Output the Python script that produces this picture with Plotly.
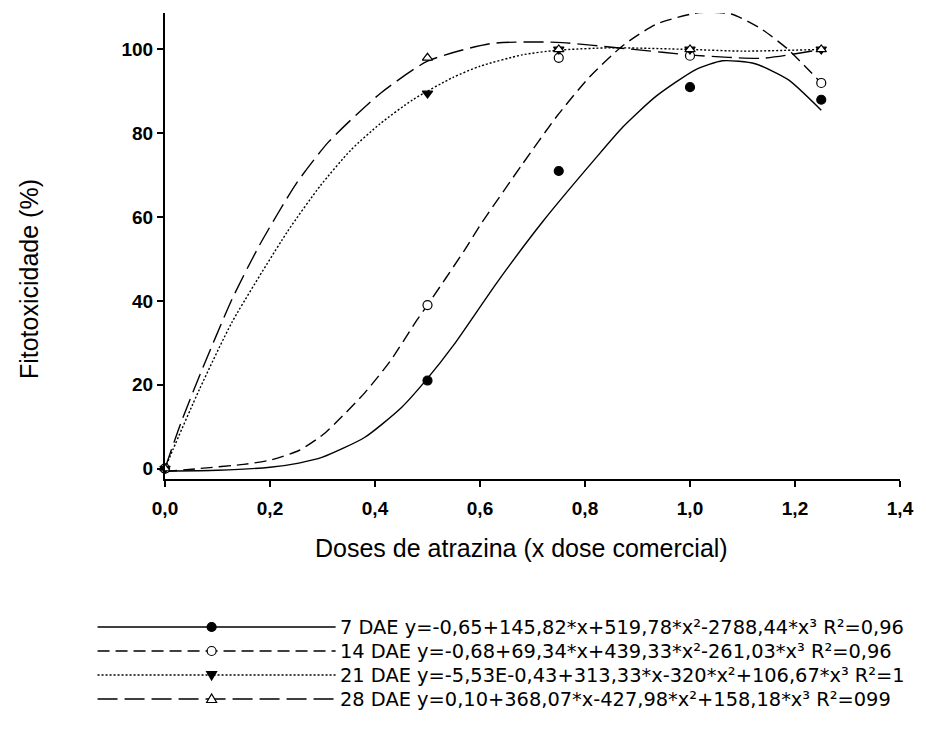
import plotly.graph_objects as go

# ---- observed data (points) ----
doses = [0.0, 0.5, 0.75, 1.0, 1.25]
dae7 = [0, 21, 71, 91, 88]
dae14 = [0, 39, 98, 98.5, 92]
dae21 = [0, 89.5, 100, 100, 100]
dae28 = [0, 98, 100, 100, 100]

# ---- fitted curves ----
fit7_x = [0, 0.1, 0.2, 0.255, 0.3, 0.38, 0.45, 0.5, 0.55, 0.633, 0.72, 0.82, 0.873, 0.935, 1.011, 1.062, 1.124, 1.187, 1.25]
fit7_y = [-0.6, -0.4, 0.3, 1.3, 2.7, 7.4, 14.5, 21.5, 29.5, 44.5, 59, 74, 81.6, 88.8, 95.2, 97.3, 96.6, 92.8, 85.5]

fit14_x = [0, 0.066, 0.15, 0.2, 0.255, 0.3, 0.33, 0.38, 0.43, 0.476, 0.5, 0.57, 0.6, 0.68, 0.746, 0.809, 0.873, 0.935, 1.017, 1.08, 1.137, 1.187, 1.219, 1.25]
fit14_y = [-0.7, 0.0, 1.0, 2.0, 4.3, 8, 11.5, 18, 25.8, 34.7, 39, 52, 58, 72.5, 84, 93.5, 101, 106, 108.8, 108.4, 104.8, 100, 96, 92]

fit21_x = [0, 0.015, 0.066, 0.128, 0.233, 0.296, 0.354, 0.41, 0.472, 0.548, 0.6, 0.68, 0.746, 0.85, 1.0, 1.1, 1.25]
fit21_y = [0, 4.5, 19, 35, 56.5, 67.5, 76, 82.3, 88, 93.3, 96, 98.7, 99.8, 100.4, 100, 99.6, 100]

fit28_x = [0, 0.03, 0.066, 0.128, 0.18, 0.25, 0.312, 0.41, 0.5, 0.62, 0.746, 0.885, 1.01, 1.137, 1.25]
fit28_y = [0, 10.8, 22.2, 40.5, 53.3, 68, 78, 89.5, 97.2, 101.4, 101.7, 100.1, 98.6, 97.9, 100]

x_ticks = [0, 0.2, 0.4, 0.6, 0.8, 1.0, 1.2, 1.4]
y_ticks = [0, 20, 40, 60, 80, 100]

legend_labels = [
    "7 DAE y=-0,65+145,82*x+519,78*x²-2788,44*x³ R²=0,96",
    "14 DAE y=-0,68+69,34*x+439,33*x²-261,03*x³ R²=0,96",
    "21 DAE y=-5,53E-0,43+313,33*x-320*x²+106,67*x³ R²=1",
    "28 DAE y=0,10+368,07*x-427,98*x²+158,18*x³ R²=099",
]

FONT = "Liberation Sans, Arial, sans-serif"
LEG_FONT = "DejaVu Sans, Liberation Sans, Arial, sans-serif"
W, H = 926, 731
L, R, T, B = 165, 20, 13, 252
PW, PH = W - L - R, H - T - B

styles = [
    dict(dash="solid", symbol="circle", fill="black"),
    dict(dash="12px,6px", symbol="circle", fill="white"),
    dict(dash="2px,2px", symbol="triangle-down", fill="black"),
    dict(dash="20px,7px", symbol="triangle-up", fill="white"),
]

series = [
    (fit7_x, fit7_y, dae7),
    (fit14_x, fit14_y, dae14),
    (fit21_x, fit21_y, dae21),
    (fit28_x, fit28_y, dae28),
]

fig = go.Figure()
for (fx, fy, ys), st, lab in zip(series, styles, legend_labels):
    fig.add_trace(go.Scatter(
        x=fx, y=fy, mode="lines",
        line=dict(color="black", width=1.4, dash=st["dash"], shape="spline", smoothing=0.6),
        showlegend=False, hoverinfo="skip"))
for (fx, fy, ys), st, lab in zip(series, styles, legend_labels):
    fig.add_trace(go.Scatter(
        x=doses, y=ys, mode="markers", cliponaxis=False, name=lab,
        marker=dict(symbol=st["symbol"], size=9, color=st["fill"], line=dict(color="black", width=1.2)),
        showlegend=False))

def px2paper(px, py):
    return (px - L) / PW, (H - B - py) / PH

shapes = []
annotations = []
rows = [627, 651, 675, 699]
for st, lab, ry in zip(styles, legend_labels, rows):
    x0, y0 = px2paper(97, ry)
    x1, _ = px2paper(337, ry)
    shapes.append(dict(type="line", xref="paper", yref="paper", x0=x0, x1=x1, y0=y0, y1=y0,
                       line=dict(color="black", width=1.4, dash=st["dash"])))
    mx, my = px2paper(212, ry)
    common = dict(xref="paper", yref="paper", xsizemode="pixel", ysizemode="pixel",
                  xanchor=mx, yanchor=my, fillcolor=st["fill"], line=dict(color="black", width=1.2))
    if st["symbol"] == "circle":
        shapes.append(dict(type="circle", x0=-4.5, x1=4.5, y0=-4.5, y1=4.5, **common))
    elif st["symbol"] == "triangle-down":
        shapes.append(dict(type="path", path="M-5,3.5 L5,3.5 L0,-5 Z", **common))
    else:
        shapes.append(dict(type="path", path="M-5,-3.5 L5,-3.5 L0,5 Z", **common))
    tx, ty = px2paper(340, ry)
    annotations.append(dict(text=lab, xref="paper", yref="paper", x=tx, y=ty, xanchor="left", yanchor="middle",
                            showarrow=False, borderpad=0,
                            font=dict(family=LEG_FONT, size=19.4, color="black")))

ax_x, ax_y = px2paper(524, 548)
annotations.append(dict(text="Doses de atrazina (x dose comercial)", xref="paper", yref="paper", x=ax_x, y=ax_y,
                        xanchor="center", yanchor="middle", showarrow=False,
                        font=dict(family=FONT, size=25, color="black")))
ay_x, ay_y = px2paper(28, 279)
annotations.append(dict(text="Fitotoxicidade (%)", xref="paper", yref="paper", x=ay_x, y=ay_y, textangle=-90,
                        xanchor="center", yanchor="middle", showarrow=False,
                        font=dict(family=FONT, size=25, color="black")))

fig.update_layout(
    width=W, height=H, margin=dict(l=L, r=R, t=T, b=B),
    paper_bgcolor="white", plot_bgcolor="white",
    separators=",.", showlegend=False,
    shapes=shapes, annotations=annotations,
    font=dict(family=FONT, color="black"),
)
fig.update_xaxes(range=[0, 1.4], tickvals=x_ticks, tickformat=".1f", showgrid=False, zeroline=False,
                 showline=True, linecolor="black", linewidth=2, ticks="outside", ticklen=6, tickwidth=1.5,
                 tickcolor="black", ticklabelstandoff=5,
                 tickfont=dict(family=FONT, size=19, color="black", weight="bold"))
fig.update_yaxes(range=[-2.5, 108.7], tickvals=y_ticks, showgrid=False, zeroline=False,
                 showline=True, linecolor="black", linewidth=2, ticks="outside", ticklen=6, tickwidth=1.5,
                 tickcolor="black", tickfont=dict(family=FONT, size=19, color="black", weight="bold"))

fig.write_html("out.html")
